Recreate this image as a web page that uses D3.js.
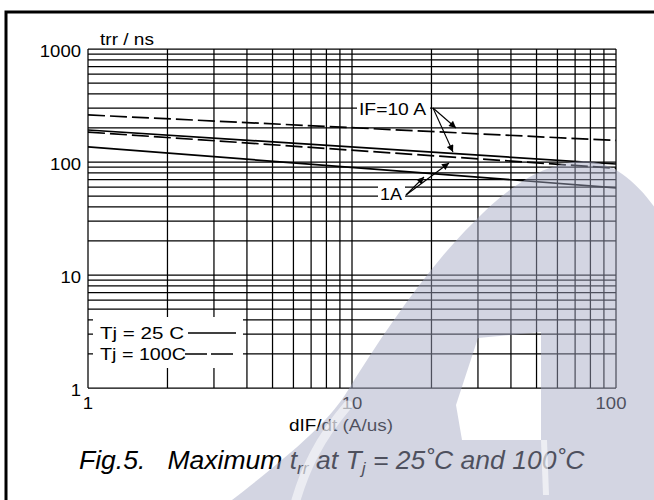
<html>
<head>
<script src="https://d3js.org/d3.v7.min.js"></script>
<style>
  body { margin: 0; background: #fff; }
  text { font-family: "Liberation Sans", Arial, sans-serif; white-space: pre; }
</style>
</head>
<body>
<script>
// chart values
const xTicks = [1, 10, 100];
const yTicks = [1, 10, 100, 1000];
const xDomain = [1, 100];
const yDomain = [1, 1000];

const seriesNames = ["25C IF=10A", "25C IF=1A", "100C IF=10A", "100C IF=1A"];
const seriesDashed = [false, false, true, true];
const seriesX = [[1, 100], [1, 100], [1, 100], [1, 100]];
const seriesY = [[192, 96], [136, 59], [261, 155], [184, 88]];

const legendLabels = ["Tj = 25 C", "Tj = 100C"];

const W = 654, H = 500;
const svg = d3.select("body").append("svg").attr("width", W).attr("height", H);

const x = d3.scaleLog().domain(xDomain).range([88, 616]);
const y = d3.scaleLog().domain(yDomain).range([388, 49]);

// the scanned text is a bit wider than Liberation Sans, so stretch it
function stretch(sel, len) {
  sel.attr("textLength", len).attr("lengthAdjust", "spacingAndGlyphs");
}

// outer frame
svg.append("rect").attr("x", 6).attr("y", 12).attr("width", 700).attr("height", 600)
  .attr("fill", "none").attr("stroke", "#000").attr("stroke-width", 3);

// grid (all decades with 2..9 minors)
const minorX = [];
for (let d = 1; d < 100; d *= 10) for (let k = 1; k < 10; k++) minorX.push(d * k);
minorX.push(100);
const minorY = [];
for (let d = 1; d < 1000; d *= 10) for (let k = 1; k < 10; k++) minorY.push(d * k);
minorY.push(1000);

const grid = svg.append("g").attr("stroke", "#000").attr("stroke-width", 1.25);
grid.selectAll("line.v").data(minorX).join("line")
  .attr("class", "v")
  .attr("x1", d => x(d)).attr("x2", d => x(d))
  .attr("y1", y(1000)).attr("y2", y(1));
grid.selectAll("line.h").data(minorY).join("line")
  .attr("class", "h")
  .attr("x1", x(1)).attr("x2", x(100))
  .attr("y1", d => y(d)).attr("y2", d => y(d));

// tick labels
svg.append("g").selectAll("text").data(yTicks).join("text")
  .attr("x", 81).attr("y", d => y(d) + 8)
  .attr("text-anchor", "end").attr("font-size", 16.5).text(d => d)
  .each(function (d) { stretch(d3.select(this), String(d).length * 10.3); });
svg.append("g").selectAll("text").data(xTicks).join("text")
  .attr("x", d => x(d) - (d === 100 ? 5 : 0)).attr("y", 409)
  .attr("text-anchor", "middle").attr("font-size", 16.5).text(d => d)
  .each(function (d) { stretch(d3.select(this), String(d).length * 10.3); });

stretch(svg.append("text").attr("x", 100).attr("y", 45).attr("font-size", 16.5).text("trr / ns"), 54);
stretch(svg.append("text").attr("x", 341).attr("y", 431).attr("text-anchor", "middle")
  .attr("font-size", 16).text("dIF/dt (A/us)"), 104);

// curves
const line = d3.line().x(d => x(d[0])).y(d => y(d[1]));
svg.append("g").selectAll("path").data(seriesNames).join("path")
  .attr("d", (n, i) => line(seriesX[i].map((v, j) => [v, seriesY[i][j]])))
  .attr("fill", "none").attr("stroke", "#000").attr("stroke-width", 1.7)
  .attr("stroke-dasharray", (n, i) => seriesDashed[i] ? "17,5" : null);

// legend box
const lg = svg.append("g");
lg.append("rect").attr("x", 93).attr("y", 317).attr("width", 150).attr("height", 51).attr("fill", "#fff");
lg.selectAll("text").data(legendLabels).join("text")
  .attr("x", 100).attr("y", (d, i) => 339 + i * 21).attr("font-size", 16).text(d => d)
  .each(function (d, i) { stretch(d3.select(this), i ? 86 : 84); });
lg.selectAll("line").data(legendLabels).join("line")
  .attr("x1", (d, i) => i ? 185 : 188).attr("x2", 236)
  .attr("y1", (d, i) => 333 + i * 21).attr("y2", (d, i) => 333 + i * 21)
  .attr("stroke", "#000").attr("stroke-width", 1.6)
  .attr("stroke-dasharray", (d, i) => i ? "22,4" : null);

// annotations
const defs = svg.append("defs");
defs.append("marker").attr("id", "ah").attr("viewBox", "0 0 10 10")
  .attr("refX", 10).attr("refY", 5).attr("markerWidth", 9).attr("markerHeight", 7)
  .attr("markerUnits", "userSpaceOnUse").attr("orient", "auto")
  .append("path").attr("d", "M0,0L10,5L0,10Z").attr("fill", "#000");

svg.append("rect").attr("x", 357).attr("y", 98).attr("width", 73).attr("height", 21).attr("fill", "#fff");
stretch(svg.append("text").attr("x", 359).attr("y", 115).attr("font-size", 16).text("IF=10 A"), 67);
svg.append("rect").attr("x", 378).attr("y", 186).attr("width", 27).attr("height", 19).attr("fill", "#fff");
stretch(svg.append("text").attr("x", 380).attr("y", 200).attr("font-size", 16).text("1A"), 22);

const ann = svg.append("g").attr("stroke", "#000").attr("stroke-width", 1.1).attr("marker-end", "url(#ah)");
ann.append("line").attr("x1", 433).attr("y1", 108).attr("x2", 456).attr("y2", 128);
ann.append("line").attr("x1", 433).attr("y1", 108).attr("x2", 453).attr("y2", 152);
ann.append("line").attr("x1", 406).attr("y1", 195).attr("x2", 424).attr("y2", 177);
ann.append("line").attr("x1", 406).attr("y1", 195).attr("x2", 449).attr("y2", 163);

// caption
const cap = svg.append("text").attr("x", 0).attr("y", 469).attr("font-size", 26).attr("font-style", "italic");
cap.append("tspan").text("Fig.5.   Maximum t");
cap.append("tspan").attr("font-size", 17).attr("dy", 5).text("rr");
cap.append("tspan").attr("dy", -5).text(" at T");
cap.append("tspan").attr("font-size", 17).attr("dy", 5).text("j");
cap.append("tspan").attr("dy", -5).text(" = 25˚C and 100˚C");
const bb = cap.node().getBBox();
cap.attr("transform", `translate(${79 - bb.x * 506 / bb.width},0) scale(${506 / bb.width},1)`);

// watermark overlay (light lavender arch with a notch)
const wm = svg.append("g").attr("pointer-events", "none");
wm.append("path")
  .attr("d", "M232,500 C290,455 325,425 345,395 C385,330 430,265 473,223 C505,190 540,163 583,161 C615,161 640,185 660,215 L660,500 Z" +
    " M478,338 L541,332 L541,440 L462,440 L456,405 Z")
  .attr("fill-rule", "evenodd")
  .attr("fill", "#a4a8c2").attr("fill-opacity", 0.48);
wm.append("path")
  .attr("d", "M296,500 C305,470 318,440 348,405")
  .attr("fill", "none").attr("stroke", "#fff").attr("stroke-opacity", 0.55)
  .attr("stroke-width", 9).attr("stroke-linecap", "round");
wm.append("path")
  .attr("d", "M544,440 L546,495")
  .attr("fill", "none").attr("stroke", "#fff").attr("stroke-opacity", 0.6)
  .attr("stroke-width", 6);
</script>
</body>
</html>
